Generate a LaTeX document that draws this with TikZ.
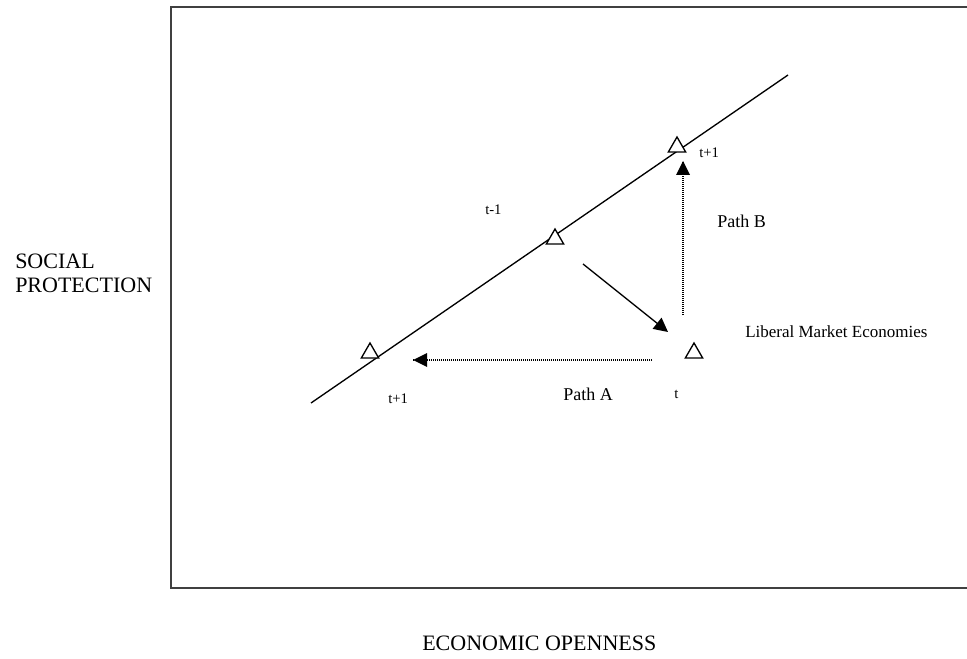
\documentclass[tikz,border=0pt]{standalone}
\usepackage{fontspec}
\setmainfont{Liberation Serif}
\usetikzlibrary{arrows.meta,shapes.geometric}
\begin{document}
\begin{tikzpicture}[x=0.75pt,y=-0.75pt,
  tri/.style={draw=black,fill=white,regular polygon,regular polygon sides=3,
    minimum size=15pt,inner sep=0pt,line width=1pt},
  big/.style={font=\fontsize{16.5}{17.25}\selectfont,anchor=base west,inner sep=0pt,align=left},
  mid/.style={font=\fontsize{13.5}{16}\selectfont,anchor=base west,inner sep=0pt},
  lme/.style={font=\fontsize{12.75}{15}\selectfont,anchor=base west,inner sep=0pt},
  small/.style={font=\fontsize{11}{13}\selectfont,anchor=base west,inner sep=0pt},
  head/.style={-{Triangle[length=10.5pt,width=10.5pt]}},
  dots/.style={line width=0.8pt,dash pattern=on 0.75pt off 0.75pt}]
\useasboundingbox (0,0) rectangle (967,659);
% frame
\draw[line width=1.1pt,black!75] (990,7) -- (171,7) -- (171,588) -- (990,588);
% line
\coordinate (L1) at (311,403);
\coordinate (L2) at (788,75);
\draw[line width=1pt] (L1) -- (L2);
% triangles
\node[tri] (T1) at (370,353) {};
\node[tri] (T2) at (555,239) {};
\node[tri] (T3) at (677,147) {};
\node[tri] (T4) at (694,353) {};
% arrows
\coordinate (S1) at (583,264);
\coordinate (S2) at (668,332);
\draw[head,line width=1pt] (S1) -- (S2);
\coordinate (A1) at (652,360);
\coordinate (A2) at (413,360);
\draw[dots] (A1) -- (A2);
\fill (A2) -- ++(14,-7) -- ++(0,14) -- cycle;
\coordinate (B1) at (683,315);
\coordinate (B2) at (683,161);
\draw[dots] (B1) -- (B2);
\fill (B2) -- ++(-7,14) -- ++(14,0) -- cycle;
% labels
\node[big] (yl) at (15,292) {SOCIAL\\PROTECTION};
\node[big] (xl) at (422,650) {ECONOMIC OPENNESS};
\node[mid] (pb) at (717,228) {Path B};
\node[mid] (pa) at (563,400) {Path A};
\node[lme] (lm) at (745,337) {Liberal Market Economies};
\node[small] (tm1) at (485,215) {t-1};
\node[small] (tp1a) at (699,158) {t+1};
\node[small] (tp1b) at (388,403) {t+1};
\node[small] (tt) at (674,398) {t};
\end{tikzpicture}
\end{document}
